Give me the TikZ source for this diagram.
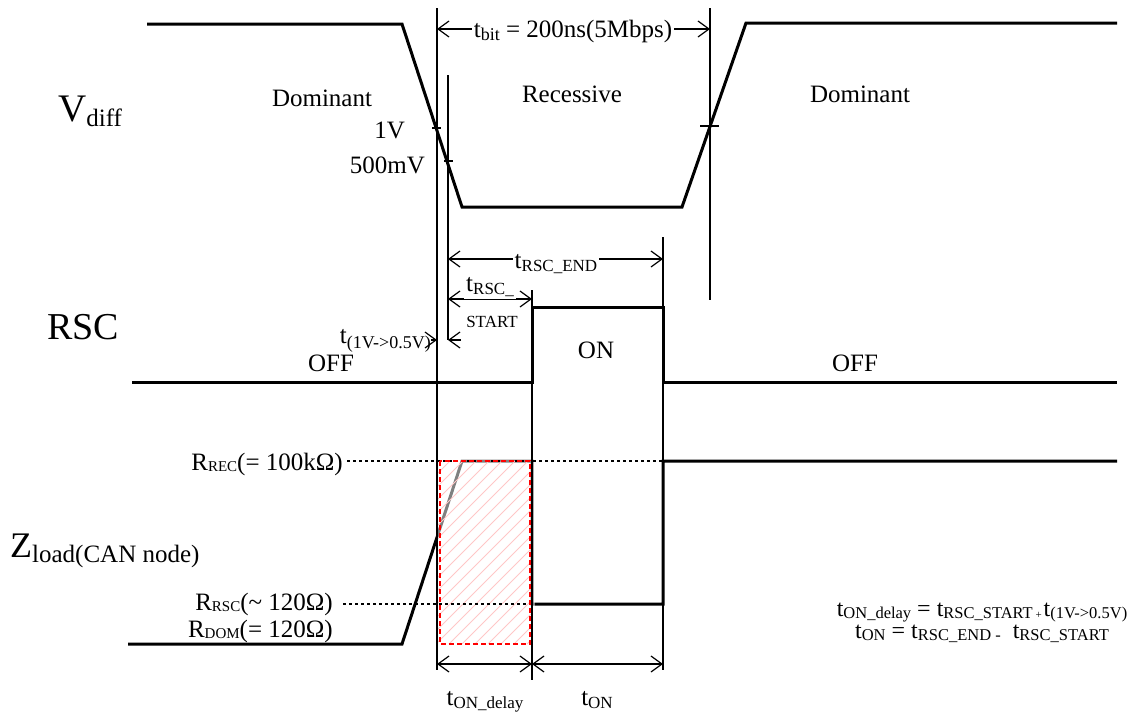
\documentclass[tikz,border=0pt]{standalone}
\usepackage{fontspec}
\setmainfont{Liberation Serif}
\usetikzlibrary{arrows.meta}
\newcommand\fs[1]{\fontsize{#1}{#1}\selectfont}
\newcommand\sbx[3]{\raisebox{-#1pt}{\fs{#2}#3}}
\begin{document}
\begin{tikzpicture}[x=1pt,y=-1pt,font=\fs{25},
  wave/.style={line width=3pt,line join=miter},
  thin/.style={line width=1.2pt},
  barb/.tip={Straight Barb[length=11pt,width=16pt,line width=1.2pt]},
  dim/.style={thin,barb-barb},
  lbl/.style={inner sep=0pt},
  cover/.style={fill=white,inner xsep=2pt,inner ysep=0pt},
  dotl/.style={line width=1.5pt,dash pattern=on 3pt off 3pt}]
\useasboundingbox (0,0) rectangle (1145,715);
\fill[white] (0,0) rectangle (1145,715);
% waveforms
\draw[wave] (147,24) -- (402,24) -- (462,207) -- (682,207) -- (746,23) -- (1117,23);
\draw[wave] (132,382) -- (532,382) -- (532,307) -- (663,307) -- (663,382) -- (1117,382);
\draw[wave] (128,644) -- (402,644) -- (462,461) -- (532,461) -- (532,604) -- (663,604) -- (663,461) -- (1117,461);
% hatched region
\fill[white,fill opacity=0.5] (437,459) rectangle (535,644);
\begin{scope}
\clip (437,461) rectangle (532,644);
\foreach \i in {0,...,22} \draw[red!22,line width=1pt] (254+\i*13,644) -- ++(183,-183);
\end{scope}
% thin vertical guide lines
\draw[thin] (437,8) -- (437,670);
\draw[thin] (448,75) -- (448,340);
\draw[thin] (710,8) -- (710,300);
\draw[thin] (532,290) -- (532,680);
\draw[thin] (663,237) -- (663,670);
% ticks
\draw[thin] (432,128) -- (441,128);
\draw[thin] (444,161) -- (453,161);
\draw[thin] (700,126) -- (719,126);
% dotted levels
\coordinate (recS) at (347,461); \coordinate (recE) at (663,461);
\coordinate (rscS) at (343,604); \coordinate (rscE) at (532,604);
\draw[dotl] (recS) -- (recE);
\draw[dotl] (rscS) -- (rscE);
% red dashed box on top
\draw[red,line width=2.5pt,dash pattern=on 5pt off 3pt] (440,461) rectangle (530,644);
% dimension arrows
\coordinate (tbA) at (437,29); \coordinate (tbB) at (710,29);
\draw[dim] (tbA) -- (tbB);
\node[cover,anchor=base] (tbit) at (573,37) {t\sbx{3}{18}{bit} = 200ns(5Mbps)};
\coordinate (reA) at (448,259); \coordinate (reB) at (663,259);
\draw[dim] (reA) -- (reB);
\coordinate (rsA) at (448,299); \coordinate (rsB) at (532,299);
\draw[dim] (rsA) -- (rsB);
\node[cover,inner ysep=3pt,anchor=base] (trs) at (490,291) {t\sbx{3}{17}{RSC\_}};
\node[cover,anchor=base] (tre) at (556,268) {t\sbx{3}{17}{RSC\_END}};
\node[lbl,anchor=base] (start) at (492,327) {\fs{17}START};
\node[lbl,anchor=base east] (t105) at (431,343) {t\sbx{5}{18}{(1V->0.5V)}};
\coordinate (l1a) at (437,340); \coordinate (l2a) at (448,340);
\coordinate (l2b) at (461,340);
\draw[thin,-barb] (t105.east |- l1a) -- (l1a);
\draw[thin,-barb] (l2b) -- (l2a);
\coordinate (bdA) at (437,664); \coordinate (bdB) at (532,664); \coordinate (bdC) at (663,664);
\draw[dim] (bdA) -- (bdB);
\draw[dim] (bdB) -- (bdC);
% labels
\node[lbl,anchor=base west] (vd) at (58,121) {\fs{39}V\sbx{5}{25}{diff}};
\node[lbl,anchor=base] (dom1) at (322,106) {Dominant};
\node[lbl,anchor=base] (rec) at (572,102) {Recessive};
\node[lbl,anchor=base] (dom2) at (860,102) {Dominant};
\node[lbl,anchor=base east] (v1) at (405,138) {1V};
\node[lbl,anchor=base east] (v05) at (425,173) {500mV};
\node[lbl,anchor=base west] (rsc) at (47,339) {\fs{38}RSC};
\node[lbl,anchor=base] (off1) at (331,371) {OFF};
\node[lbl,anchor=base] (on) at (596,358) {ON};
\node[lbl,anchor=base] (off2) at (855,371) {OFF};
\node[lbl,anchor=base east] (rrec) at (343,470) {R\sbx{1.5}{15}{REC}(= 100kΩ)};
\node[lbl,anchor=base east] (rrsc) at (333,610) {R\sbx{1.5}{15}{RSC}(\textasciitilde{} 120Ω)};
\node[lbl,anchor=base east] (rdom) at (333,637) {R\sbx{1.5}{15}{DOM}(= 120Ω)};
\node[lbl,anchor=base west] (z) at (10,557) {\fs{36}Z\sbx{5}{25}{load(CAN node)}};
\node[lbl,anchor=base] (tond) at (485,705) {t\sbx{3}{17}{ON\_delay}};
\node[lbl,anchor=base] (ton) at (597,705) {t\sbx{3}{17}{ON}};
\node[lbl,anchor=base,font=\fs{24}] (f1) at (982,616) {t\sbx{2.5}{16.5}{ON\_delay} = t\sbx{2.5}{16.5}{RSC\_START\,\fs{11}+\,}t\sbx{2.5}{16.5}{(1V->0.5V)}};
\node[lbl,anchor=base,font=\fs{24}] (f2) at (982,638) {t\sbx{2.5}{16.5}{ON} = t\sbx{2.5}{16.5}{RSC\_END -}\ \ t\sbx{2.5}{16.5}{RSC\_START}};
\end{tikzpicture}
\end{document}
